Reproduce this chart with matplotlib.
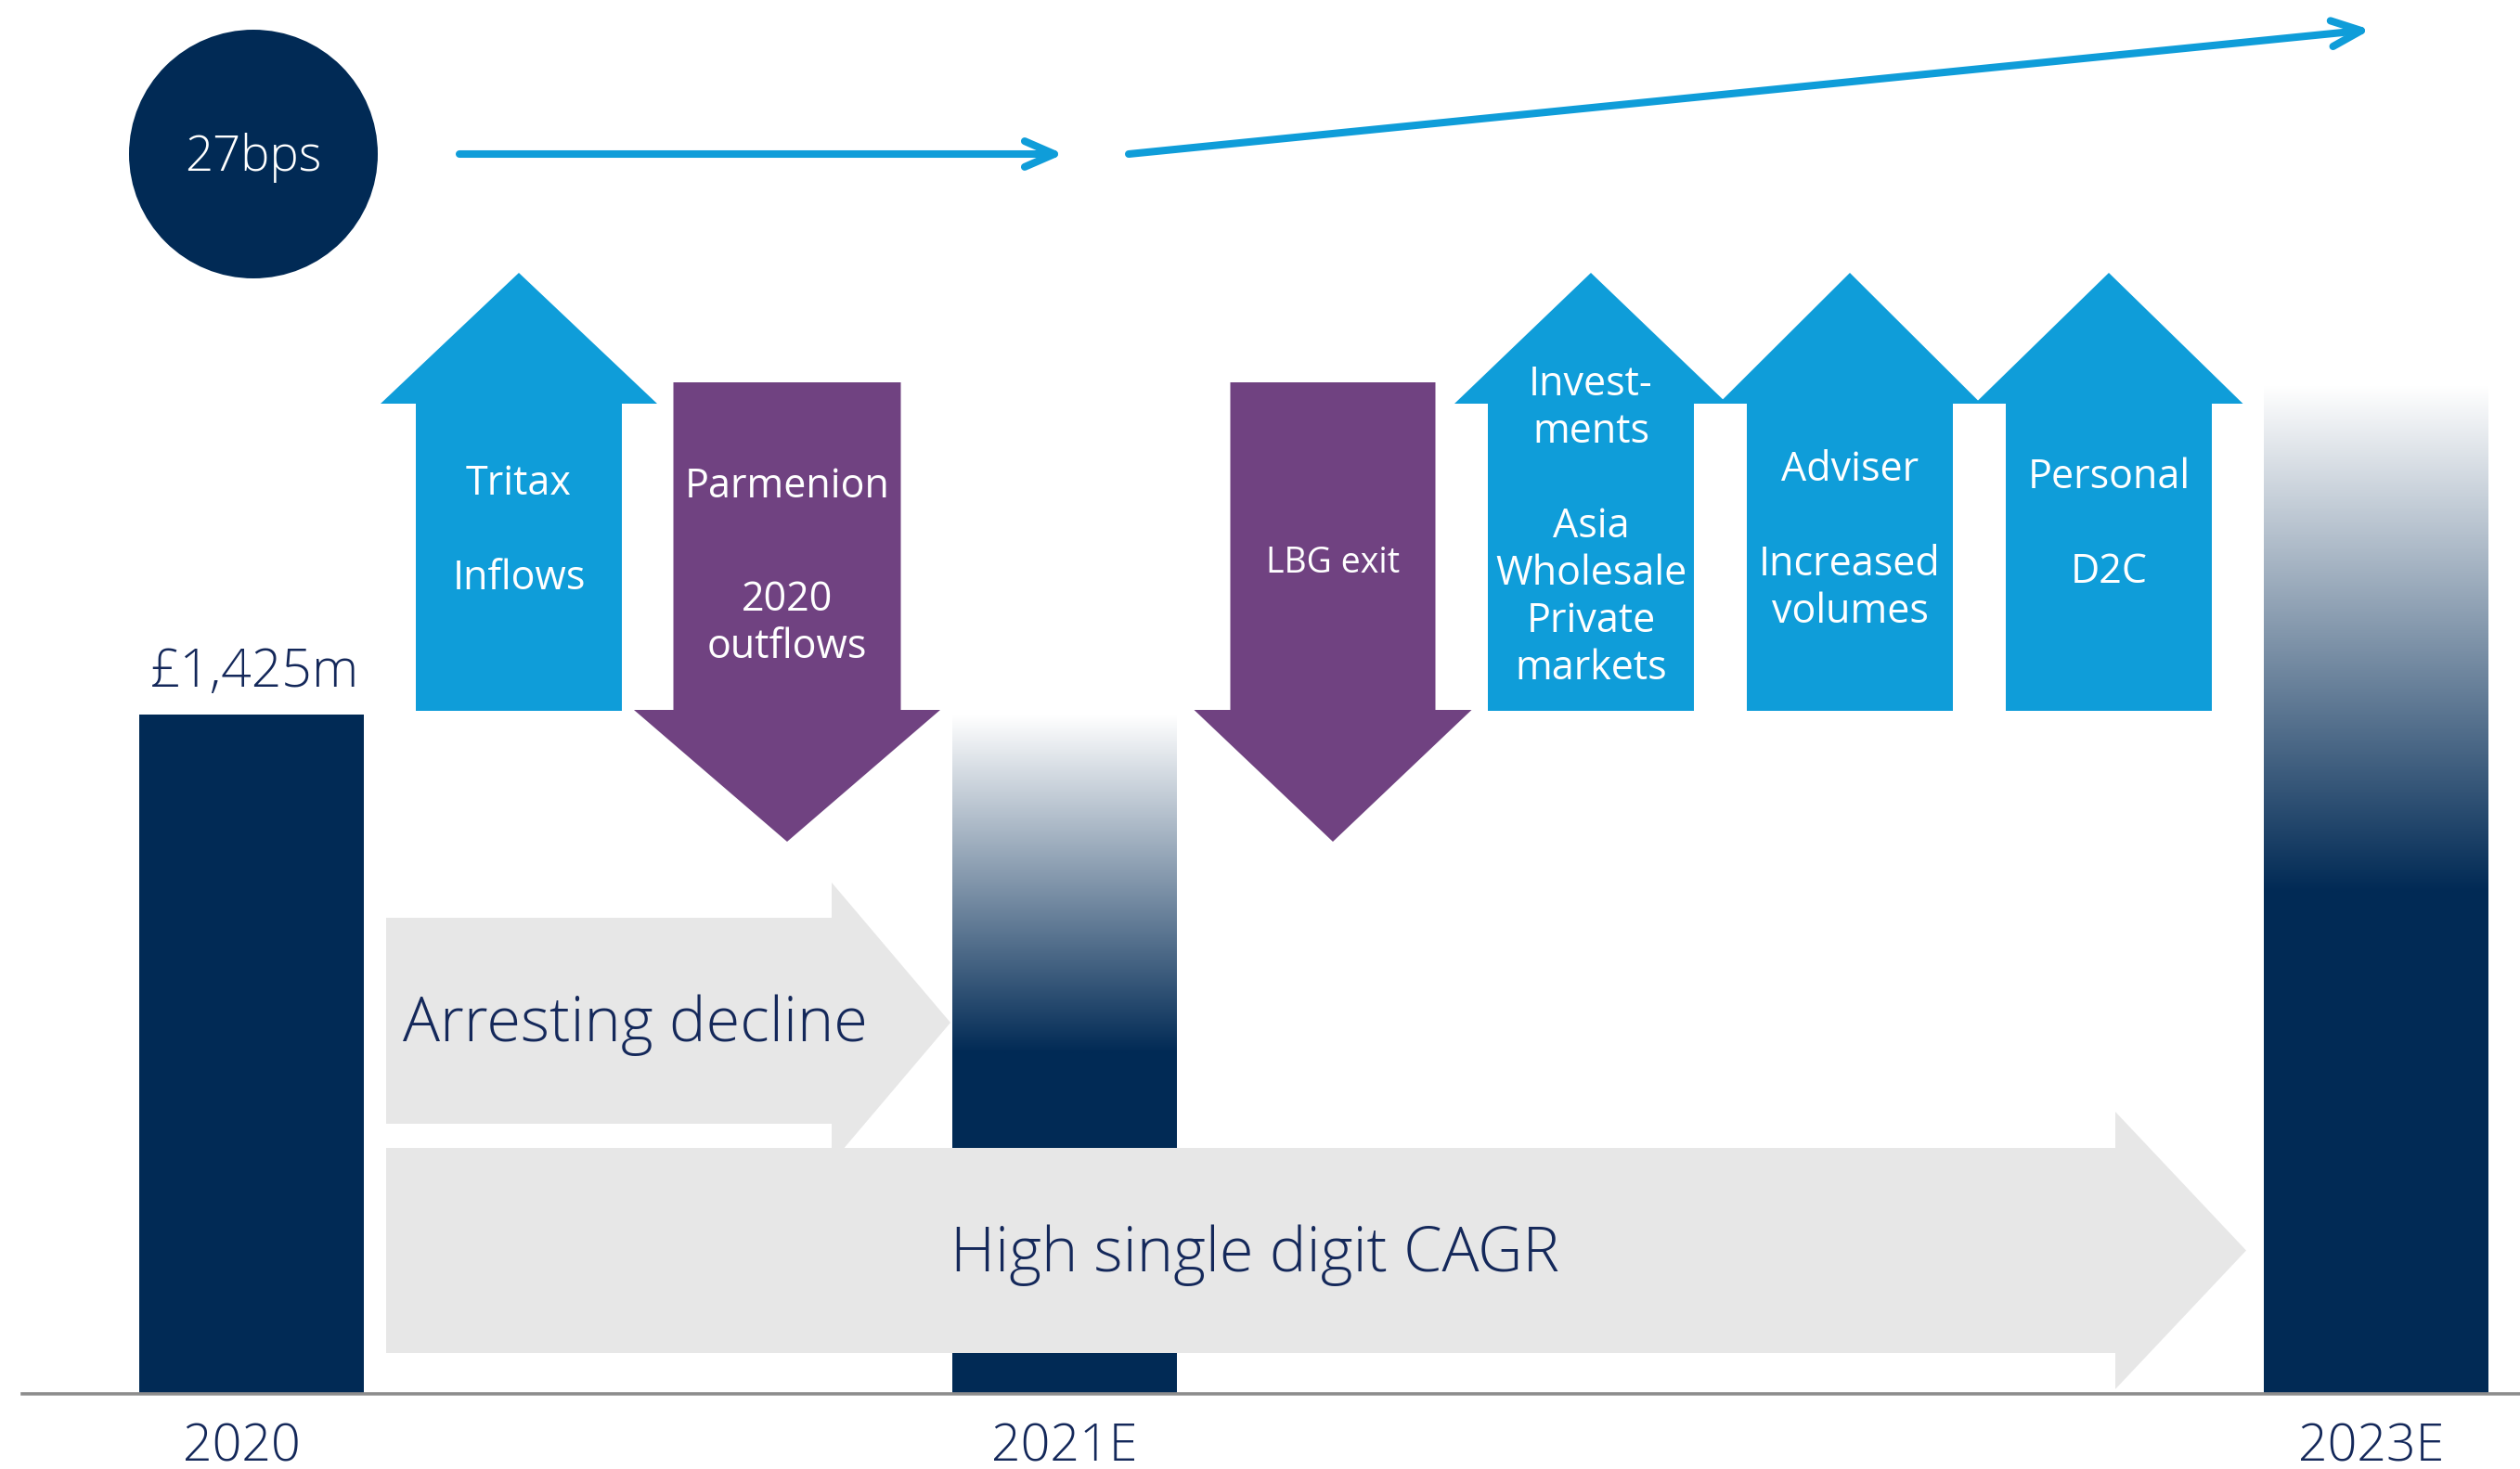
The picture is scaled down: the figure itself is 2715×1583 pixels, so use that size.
import numpy as np
import matplotlib.pyplot as plt
import matplotlib.transforms as mtransforms
from matplotlib.patches import Polygon, Circle, FancyArrowPatch
from matplotlib.colors import LinearSegmentedColormap

# Daten
years = ['2020', '2021E', '2023E']
aum_top = [1425, 1425, 2115]      # Balkenhöhe (£m, geschätzt)
aum_solid = [1425, 715, 1053]     # bis hierher voll, darüber Verlauf
aum_label = '£1,425m'
margin_label = '27bps'

drivers = ['Tritax\n\nInflows', 'Parmenion\n\n2020\noutflows', 'LBG exit',
           'Invest-\nments\n\nAsia\nWholesale\nPrivate\nmarkets',
           'Adviser\n\nIncreased\nvolumes', 'Personal\n\nD2C']
driver_dir = [1, -1, -1, 1, 1, 1]
phases = ['Arresting decline', 'High single digit CAGR']

# Farben
NAVY = '#012a55'
BLUE = '#0f9dd9'
PURPLE = '#704281'
GREY = '#e7e7e7'
TXT = '#14285a'

W, H = 2715, 1583
BASE = 1502
plt.rcParams['font.family'] = ['Open Sans', 'DejaVu Sans']

fig = plt.figure(figsize=(W / 100, H / 100), dpi=100)

# Balken-Achse: y in £m, x in Pixel
ax = fig.add_axes([24 / W, (H - BASE) / H, 1 - 24 / W, BASE / H])
px_per_val = (BASE - 770) / aum_top[0]
ax.set_xlim(24, W)
ax.set_ylim(0, BASE / px_per_val)

bar_x = [271, 1147, 2560]
bar_w = 242
ax.bar(bar_x, aum_top, width=bar_w, color=NAVY, zorder=2)

cmap = LinearSegmentedColormap.from_list('fade', ['#ffffff', NAVY])
grad = np.linspace(1, 0, 256).reshape(-1, 1)
for x, top, solid in zip(bar_x, aum_top, aum_solid):
    if top > solid:
        ax.imshow(grad, cmap=cmap, origin='lower', aspect='auto',
                  extent=(x - bar_w / 2, x + bar_w / 2, solid, top), zorder=3)
ax.set_xlim(24, W)
ax.set_ylim(0, BASE / px_per_val)

ax.set_xticks(bar_x, years)
ax.tick_params(axis='x', length=0, pad=22, labelsize=40, labelcolor=TXT)
label_shift = [-11, 0, -5]  # Pixel
for lbl, dx in zip(ax.get_xticklabels(), label_shift):
    lbl.set_fontweight('light')
    lbl.set_transform(lbl.get_transform() +
                      mtransforms.ScaledTranslation(dx / 100, 0, fig.dpi_scale_trans))
ax.set_yticks([])
for s in ['left', 'right', 'top']:
    ax.spines[s].set_visible(False)
ax.spines['bottom'].set_color('#8c8c8c')
ax.spines['bottom'].set_linewidth(2.6)
ax.patch.set_alpha(0)

ax.text(bar_x[0] + 3, aum_top[0] + 30 / px_per_val, aum_label, ha='center',
        va='baseline', fontsize=41, color=TXT, fontweight='light')

# Deko-Ebene in Pixelkoordinaten
ov = fig.add_axes([0, 0, 1, 1])
ov.set_xlim(0, W)
ov.set_ylim(H, 0)
ov.axis('off')
ov.patch.set_alpha(0)

# graue Phasenpfeile
def right_arrow(x0, y0, y1, xh, xt, hy0, hy1):
    yc = (hy0 + hy1) / 2
    pts = [(x0, y0), (xh, y0), (xh, hy0), (xt, yc), (xh, hy1), (xh, y1), (x0, y1)]
    ov.add_patch(Polygon(pts, closed=True, color=GREY, lw=0, zorder=2))

right_arrow(416, 989, 1211, 896, 1024, 951, 1253)
right_arrow(416, 1237, 1458, 2279, 2420, 1198, 1497)
ov.text(684, 1122, phases[0], ha='center', va='baseline', fontsize=48,
        color=TXT, fontweight='light', zorder=5)
ov.text(1352, 1370, phases[1], ha='center', va='baseline', fontsize=48,
        color=TXT, fontweight='light', zorder=5)

# Treiber-Pfeile
drv_x = [559, 848, 1436, 1714, 1993, 2272]
drv_shaft = [222, 245, 221, 222, 222, 222]
drv_head = [298, 330, 299, 294, 283, 289]
drv_first_base = [533, 536, 617, 426, 518, 526]
drv_gap = [51, 71, 51, 51, 51, 51]   # Höhe der Leerzeile
drv_fs = [31, 31, 27, 31, 31, 31]
LINE = 51
for x, d, sw, hw, yb, gap, fs, lab in zip(drv_x, driver_dir, drv_shaft, drv_head,
                                          drv_first_base, drv_gap, drv_fs, drivers):
    if d > 0:
        tip, hb, end, col = 294, 435, 766, BLUE
    else:
        tip, hb, end, col = 907, 765, 412, PURPLE
    pts = [(x - sw / 2, end), (x - sw / 2, hb), (x - hw / 2, hb), (x, tip),
           (x + hw / 2, hb), (x + sw / 2, hb), (x + sw / 2, end)]
    ov.add_patch(Polygon(pts, closed=True, color=col, lw=0, zorder=3))
    y = yb
    for line in lab.split('\n'):
        if line == '':
            y += gap
            continue
        ov.text(x, y, line, ha='center', va='baseline', fontsize=fs,
                color='white', zorder=5)
        y += LINE

# Marge-Kreis und Trendpfeile
ov.add_patch(Circle((273, 166), 134, color=NAVY, lw=0, zorder=3))
ov.text(273, 184, margin_label, ha='center', va='baseline', fontsize=38,
        color='white', fontweight='light', zorder=5)

for p0, p1 in [((495, 166), (1146, 166)), ((1216, 166), (2554, 32))]:
    ov.add_patch(FancyArrowPatch(p0, p1, arrowstyle='->,head_length=0.46,head_width=0.2',
                                 mutation_scale=50, lw=5.8, color=BLUE,
                                 shrinkA=0, shrinkB=0,
                                 capstyle='round', joinstyle='round', zorder=4))

fig.savefig('out.png', dpi=100, facecolor='white')
